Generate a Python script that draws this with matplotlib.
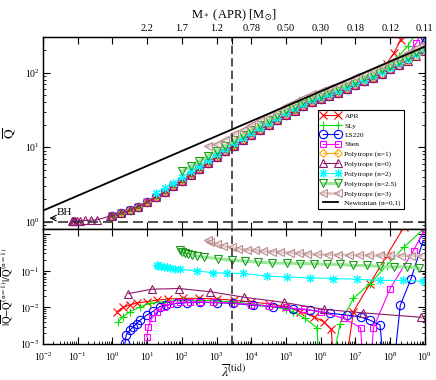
import matplotlib
matplotlib.use('Agg')
import matplotlib.pyplot as plt
from matplotlib.ticker import LogLocator, NullLocator

plt.rcParams['font.family'] = ['Liberation Serif', 'DejaVu Serif']
plt.rcParams['mathtext.fontset'] = 'stix'

# ---- top panel: Qbar vs lambda(tid) ----
lam_grid = [1.0, 1.78, 3.16, 5.62, 10.0, 17.8, 31.6, 56.2, 100, 178, 316, 562,
            1.0e3, 1.78e3, 3.16e3, 5.62e3, 1.0e4, 1.78e4, 3.16e4, 5.62e4,
            1.0e5, 1.78e5, 3.16e5, 5.62e5, 1.0e6, 1.78e6, 3.16e6, 5.62e6,
            1.0e7, 1.78e7, 3.16e7, 5.62e7, 1.0e8, 1.78e8, 3.16e8, 5.62e8, 1.0e9]
q_n1 = [1.21, 1.31, 1.43, 1.60, 1.85, 2.14, 2.52, 3.00, 3.57, 4.29, 5.13, 6.14,
        7.35, 8.75, 10.4, 12.3, 14.5, 17.0, 19.8, 23.1, 26.8, 30.9, 35.5, 39.8,
        43.7, 48.4, 53.7, 60.3, 67.6, 75.9, 85.1, 96.6, 110, 126, 145, 168, 195]

apr_tail_lam = [5.62e7, 7.9e7, 1.3e8, 2.0e8, 3.0e8]
apr_tail_q = [111, 132, 184, 277, 420]
sly_tail_lam = [5.62e7, 1.0e8, 1.78e8, 3.16e8, 5.62e8]
sly_tail_q = [106, 129, 166, 226, 336]
ls220_tail_lam = [3.16e8, 5.62e8, 1.0e9]
ls220_tail_q = [150, 189, 300]
shen_tail_lam = [1.0e8, 1.78e8, 3.16e8, 5.62e8, 1.0e9]
shen_tail_q = [113, 136, 173, 247, 440]

n0_low_lam = [0.070, 0.071, 0.073, 0.076, 0.083, 0.098, 0.117, 0.162, 0.234, 0.355, 0.85]
n0_low_q = [1.02, 1.02, 1.02, 1.02, 1.02, 1.03, 1.03, 1.04, 1.05, 1.06, 1.19]

q_n2 = [2.43, 2.84, 3.35, 3.96, 4.73, 5.64, 6.70, 8.00, 9.51, 11.3, 13.3, 15.6,
        18.2, 21.2, 24.7, 28.6, 33.0, 37.8, 42.4, 46.5, 51.4, 57.0, 64.0, 71.6,
        80.4, 89.9, 102, 116, 133, 152, 177, 206]
q_n25 = [4.79, 5.55, 6.50, 7.67, 8.99, 10.5, 12.4, 14.6, 17.1, 20.0, 23.1, 26.9,
         31.1, 35.8, 41.1, 46.0, 50.4, 55.8, 61.8, 69.2, 77.3, 86.5, 96.8, 110,
         124, 142, 163, 189, 218]
q_n3 = [10.3, 11.0, 12.6, 14.8, 17.0, 19.8, 23.1, 26.7, 30.8, 35.4, 40.6, 46.1,
        51.3, 56.0, 61.9, 68.5, 76.7, 85.9, 96.4, 108, 122, 139, 159, 182, 212, 246]

newt_lam = [1e-2, 1e9]
newt_q = [1.41, 223]

# ---- bottom panel: |Q - Q(n=1)| / Q(n=1) ----
apr_lam = [1.32, 2.0, 3.2, 5.0, 10, 19, 40, 110, 320, 1.0e3, 3.2e3, 1.0e4, 3.2e4,
           1.0e5, 2.6e5, 6.3e5, 1.2e6, 2.0e6, 3.2e6, 8.7e6, 2.6e7, 7.9e7, 2.5e8]
apr_d = [7.6e-3, 1.0e-2, 1.17e-2, 1.32e-2, 1.45e-2, 1.58e-2, 1.70e-2, 1.78e-2,
         1.78e-2, 1.70e-2, 1.58e-2, 1.41e-2, 1.26e-2, 1.05e-2, 7.6e-3, 5.6e-3,
         4.1e-3, 2.5e-3, 1e-5, 7.6e-3, 4.5e-2, 0.26, 1.6]

sly_lam = [1.48, 2.0, 3.2, 6.3, 12, 32, 110, 320, 1.0e3, 3.2e3, 1.0e4, 3.2e4,
           1.0e5, 1.6e5, 3.5e5, 7.8e5, 1.07e6, 3.6e6, 8.7e6, 2.6e7, 7.9e7, 2.5e8, 8.9e8]
sly_d = [4.1e-3, 5.6e-3, 7.6e-3, 1.05e-2, 1.29e-2, 1.45e-2, 1.58e-2, 1.58e-2,
         1.51e-2, 1.41e-2, 1.26e-2, 1.10e-2, 8.9e-3, 7.6e-3, 5.0e-3, 2.8e-3,
         1e-5, 3.6e-3, 1.78e-2, 4.5e-2, 0.14, 0.45, 1.38]

ls220_lam = [2.3, 2.5, 3.2, 4.0, 5.0, 6.3, 9.8, 15, 23, 36, 71, 138, 330, 1.0e3,
             3.0e3, 1.1e4, 4.3e4, 1.6e5, 4.9e5, 1.9e6, 5.6e6, 1.4e7, 2.6e7, 5.1e7,
             8.9e7, 1.95e8, 4.0e8, 8.9e8]
ls220_d = [1.05e-3, 1.78e-3, 2.4e-3, 2.95e-3, 3.6e-3, 4.5e-3, 6.2e-3, 7.9e-3,
           1.05e-2, 1.15e-2, 1.29e-2, 1.35e-2, 1.38e-2, 1.35e-2, 1.29e-2, 1.15e-2,
           1.05e-2, 9.3e-3, 8.5e-3, 6.9e-3, 6.2e-3, 5.5e-3, 4.5e-3, 3.3e-3, 1e-5,
           1.15e-2, 6.2e-2, 0.68]

shen_lam = [9.8, 10.8, 13.5, 19, 30, 46, 89, 174, 330, 810, 3.2e3, 1.0e4, 3.2e4,
            1.0e5, 3.2e5, 1.0e6, 4.6e6, 1.4e7, 2.1e7, 3.3e7, 1.0e8, 4.7e8, 1.0e9]
shen_d = [1.58e-3, 2.95e-3, 5.0e-3, 7.6e-3, 1.05e-2, 1.23e-2, 1.38e-2, 1.41e-2,
          1.41e-2, 1.38e-2, 1.32e-2, 1.20e-2, 1.10e-2, 1.0e-2, 8.9e-3, 7.6e-3,
          5.0e-3, 2.8e-3, 1e-5, 2.8e-3, 3.3e-2, 0.36, 1.41]

n0_lam = [2.9, 13.5, 83, 650, 6.3e3, 8.5e4, 1.2e6, 1.7e7, 7.9e8]
n0_d = [0.024, 0.0316, 0.033, 0.027, 0.019, 0.0138, 8.9e-3, 7.1e-3, 5.4e-3]

n2_lam = [19, 21, 25, 30, 37, 47, 63, 89, 270, 790, 2.0e3, 5.8e3, 2.9e4, 1.07e5,
          4.9e5, 2.3e6, 1.1e7, 5.1e7, 2.3e8, 8.9e8]
n2_d = [0.141, 0.138, 0.133, 0.129, 0.126, 0.120, 0.115, 0.110, 0.100, 0.089,
        0.087, 0.085, 0.072, 0.068, 0.065, 0.062, 0.059, 0.055, 0.055, 0.052]

n25_lam = [89, 100, 120, 151, 200, 280, 420, 1.12e3, 2.75e3, 6.6e3, 1.6e4, 3.9e4,
           1.05e5, 2.6e5, 6.2e5, 1.5e6, 3.6e6, 8.7e6, 2.1e7, 5.1e7, 1.26e8, 3.0e8, 6.6e8]
n25_d = [0.363, 0.339, 0.316, 0.295, 0.275, 0.257, 0.240, 0.216, 0.195, 0.186,
         0.174, 0.164, 0.164, 0.158, 0.158, 0.151, 0.151, 0.141, 0.141, 0.133,
         0.129, 0.129, 0.120]

n3_lam = [560, 650, 1.0e3, 1.55e3, 2.75e3, 4.2e3, 7.4e3, 1.29e4, 2.2e4, 3.9e4,
          6.8e4, 1.3e5, 2.3e5, 4.0e5, 7.8e5, 1.6e6, 3.2e6, 6.3e6, 1.26e7, 2.5e7,
          5.0e7, 1.0e8, 2.0e8, 4.0e8, 7.9e8]
n3_d = [0.69, 0.63, 0.54, 0.48, 0.44, 0.40, 0.38, 0.363, 0.35, 0.339, 0.327,
        0.316, 0.309, 0.295, 0.282, 0.279, 0.275, 0.272, 0.269, 0.269, 0.266,
        0.266, 0.263, 0.263, 0.263]

lam_14 = 2.75e3  # dashed vertical line
top_tick_lam = [1e-2, 1e-1, 1e0, 1e1, 1e2, 1e3, lam_14, 1e4, 1e5, 1e6, 1e7, 1e8, 1e9]
top_tick_lbl = ['', '', '', '2.2', '1.7', '1.2', '', '0.78', '0.50', '0.30',
                '0.18', '0.12', '0.11']

style = {
    'APR': dict(color='red', marker='x'),
    'SLy': dict(color='#00e000', marker='+'),
    'LS220': dict(color='blue', marker='o'),
    'Shen': dict(color='magenta', marker='s', ms=5),
    'Polytrope (n=1)': dict(color='orange', marker='D', ms=4.5),
    'Polytrope (n=0)': dict(color='#8b1a6b', marker='^'),
    'Polytrope (n=2)': dict(color='cyan', marker=(8, 2, 0)),
    'Polytrope (n=2.5)': dict(color='#9be89b', lw=2.2, mec='#1a9a1a', marker='v'),
    'Polytrope (n=3)': dict(color='#e2cccc', lw=2.2, mec='#b88c8c', marker='<'),
}


def draw(ax, x, y, name, label=None):
    kw = dict(lw=0.8, ms=6, mew=0.8, mfc='none')
    kw.update(style[name])
    if 'mec' not in kw:
        kw['mec'] = kw['color']
    return ax.plot(x, y, label=label, **kw)[0]


fig = plt.figure(figsize=(4.36, 3.80), dpi=100)
ax1 = fig.add_axes([0.0986, 0.3974, 0.876, 0.5053])
ax2 = fig.add_axes([0.0986, 0.0947, 0.876, 0.3026])

# top panel
h = []
h.append(draw(ax1, lam_grid[0:31] + apr_tail_lam, q_n1[0:31] + apr_tail_q, 'APR', 'APR'))
h.append(draw(ax1, lam_grid[0:31] + sly_tail_lam, q_n1[0:31] + sly_tail_q, 'SLy', 'SLy'))
h.append(draw(ax1, lam_grid[0:34] + ls220_tail_lam, q_n1[0:34] + ls220_tail_q, 'LS220', 'LS220'))
h.append(draw(ax1, lam_grid[4:32] + shen_tail_lam, q_n1[4:32] + shen_tail_q, 'Shen', 'Shen'))
h.append(draw(ax1, lam_grid, q_n1, 'Polytrope (n=1)', 'Polytrope (n=1)'))
h.append(draw(ax1, n0_low_lam + lam_grid, n0_low_q + q_n1, 'Polytrope (n=0)', 'Polytrope (n=0)'))
h.append(draw(ax1, lam_grid[5:], q_n2, 'Polytrope (n=2)', 'Polytrope (n=2)'))
h.append(draw(ax1, lam_grid[8:], q_n25, 'Polytrope (n=2.5)', 'Polytrope (n=2.5)'))
h.append(draw(ax1, lam_grid[11:], q_n3, 'Polytrope (n=3)', 'Polytrope (n=3)'))
h.append(ax1.plot(newt_lam, newt_q, color='black', lw=1.3, label='Newtonian (n=0,1)', zorder=5)[0])

ax1.axhline(1.0, color='#333333', lw=1.2, dashes=(6, 3), zorder=6)
ax1.axvline(lam_14, color='#333333', lw=1.2, dashes=(5, 2.5), zorder=6)
ax1.annotate('', xy=(0.0128, 1.12), xytext=(0.028, 1.12),
             arrowprops=dict(arrowstyle='->', lw=0.8, color='black'))
ax1.text(0.025, 1.17, 'BH', fontsize=8, ha='left', va='bottom')

# bottom panel
draw(ax2, apr_lam, apr_d, 'APR')
draw(ax2, sly_lam, sly_d, 'SLy')
draw(ax2, ls220_lam, ls220_d, 'LS220')
draw(ax2, shen_lam, shen_d, 'Shen')
draw(ax2, n0_lam, n0_d, 'Polytrope (n=0)')
draw(ax2, n2_lam, n2_d, 'Polytrope (n=2)')
draw(ax2, n25_lam, n25_d, 'Polytrope (n=2.5)')
draw(ax2, n3_lam, n3_d, 'Polytrope (n=3)')
ax2.axvline(lam_14, color='#333333', lw=1.2, dashes=(5, 2.5), zorder=6)

for ax in (ax1, ax2):
    ax.set_xscale('log')
    ax.set_yscale('log')
    ax.set_xlim(1e-2, 1e9)
    ax.xaxis.set_major_locator(LogLocator(base=10, numticks=30))
    ax.xaxis.set_minor_locator(LogLocator(base=10, subs=range(2, 10), numticks=30))
    ax.yaxis.set_major_locator(LogLocator(base=10, numticks=30))
    ax.yaxis.set_minor_locator(LogLocator(base=10, subs=range(2, 10), numticks=30))
    ax.tick_params(which='both', direction='in', right=True, labelsize=7, pad=2.5)
    ax.tick_params(which='major', length=5, width=0.8)
    ax.tick_params(which='minor', length=2.5, width=0.6)
    for s in ax.spines.values():
        s.set_linewidth(1.0)

ax1.set_ylim(0.8, 300)
ax1.xaxis.set_minor_locator(NullLocator())
ax1.tick_params(labelbottom=False, top=False)
ax1.set_ylabel(r'$\overline{\mathrm{Q}}$', fontsize=9.5)
ax1.yaxis.set_label_coords(-0.065, 0.5)

ax2.set_ylim(1e-3, 1.4)
ax2.tick_params(top=True)
ax2.tick_params(axis='x', pad=5)
ax2.set_yticks([1e-3, 1e-2, 1e-1, 1e0])
ax2.set_yticklabels([r'$10^{-3}$', r'$10^{-2}$', r'$10^{-1}$', ''])
ax2.set_ylabel(r'$|\overline{\mathrm{Q}}\mathrm{-}\overline{\mathrm{Q}}^{(\mathrm{n=1})}|/\overline{\mathrm{Q}}^{(\mathrm{n=1})}$',
               fontsize=7.6)
ax2.yaxis.set_label_coords(-0.072, 0.5)
ax2.set_xlabel(r'$\overline{\lambda}^{(\mathrm{tid})}$', fontsize=10, labelpad=0)

axt = ax1.twiny()
axt.set_xscale('log')
axt.set_xlim(1e-2, 1e9)
axt.set_xticks(top_tick_lam)
axt.set_xticklabels(top_tick_lbl)
axt.xaxis.set_minor_locator(NullLocator())
axt.tick_params(direction='in', length=5, width=0.8, labelsize=7.5, pad=3)
axt.set_xlabel(r'M$_*$ (APR) [M$_{\odot}$]', fontsize=9, labelpad=4)

leg = ax1.legend(handles=h, loc='upper left', bbox_to_anchor=(0.72, 0.62),
                 fontsize=5.3, numpoints=2, handlelength=2.6, fancybox=False,
                 edgecolor='black', framealpha=1, borderpad=0.4,
                 labelspacing=0.45, handletextpad=0.6, borderaxespad=0)
leg.get_frame().set_linewidth(0.8)

fig.savefig('out.png', dpi=100)
